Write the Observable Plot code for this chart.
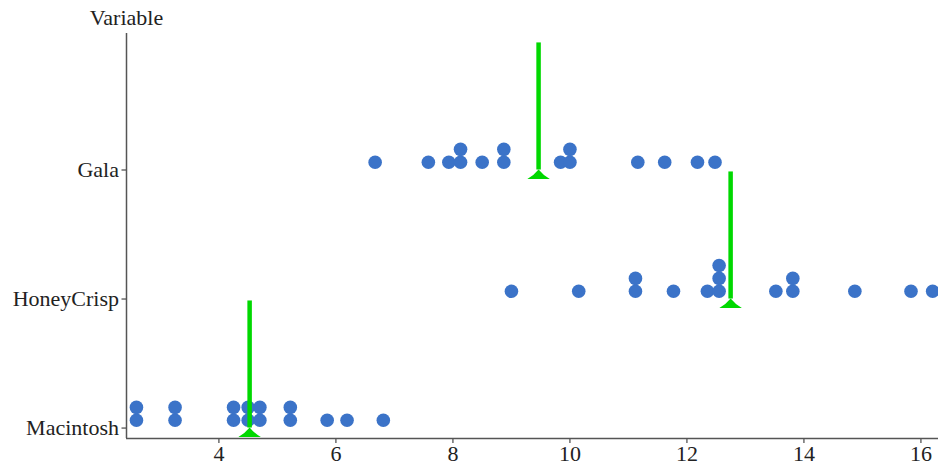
<!DOCTYPE html>
<html><head><meta charset="utf-8">
<script src="https://cdn.jsdelivr.net/npm/d3@7"></script>
<script src="https://cdn.jsdelivr.net/npm/@observablehq/plot@0.6"></script>
<style>
html,body{margin:0;padding:0;background:#fff;}
</style>
</head><body><div id="chart"></div>
<script>
// Categories (row 0 at the bottom)
const varieties = ["Macintosh", "HoneyCrisp", "Gala"];
// Series values
const galaValues = [6.67, 7.58, 7.93, 8.13, 8.13, 8.5, 8.87, 8.87, 9.84, 10.0, 10.0, 11.16, 11.62, 12.18, 12.48];
const honeyCrispValues = [9.0, 10.15, 11.12, 11.12, 11.77, 12.35, 12.55, 12.55, 12.55, 13.52, 13.81, 13.81, 14.87, 15.83, 16.2];
const macintoshValues = [2.59, 2.59, 3.25, 3.25, 4.25, 4.25, 4.5, 4.5, 4.7, 4.7, 5.22, 5.22, 5.85, 6.19, 6.81];
// Tick labels
const xTicks = [4, 6, 8, 10, 12, 14, 16];
const yTicks = [0, 1, 2];
const axisTitle = ["Variable"];

const xDomain = [2.42, 16.3];
const yDomain = [-0.081, 3.058];
const stackBase = 0.06, stackStep = 0.1, lineSpan = 0.985;

const seriesByName = new Map([["Macintosh", macintoshValues], ["HoneyCrisp", honeyCrispValues], ["Gala", galaValues]]);
const points = [];
const means = [];
varieties.forEach((name, row) => {
  const counts = new Map();
  for (const v of seriesByName.get(name)) {
    const k = counts.get(v) || 0;
    counts.set(v, k + 1);
    points.push({variety: name, row, value: v, level: row + stackBase + k * stackStep});
  }
  means.push({variety: name, row, mean: d3.mean(seriesByName.get(name))});
});

// flat "fulcrum" triangle marker, apex at the anchor point
const fulcrum = {
  draw(ctx, size) {
    const s = Math.sqrt(size / Math.PI);
    ctx.moveTo(0, -s * 0.05);
    ctx.quadraticCurveTo(s * 0.45, s * 0.5, s, s * 0.8);
    ctx.lineTo(-s, s * 0.8);
    ctx.quadraticCurveTo(-s * 0.45, s * 0.5, 0, -s * 0.05);
    ctx.closePath();
  }
};

const green = "#00d800";
const plot = Plot.plot({
  width: 938,
  height: 466,
  marginLeft: 126,
  marginRight: 0,
  marginTop: 33,
  marginBottom: 28,
  style: {fontFamily: "'Liberation Serif', 'Times New Roman', serif", fontSize: "22px", color: "#222", background: "#fff"},
  x: {domain: xDomain, ticks: xTicks, tickSize: 5, tickPadding: 2, label: null},
  y: {domain: yDomain, ticks: yTicks, tickFormat: (i) => varieties[i], tickSize: 4.5, tickPadding: 3, label: null},
  marks: [
    Plot.ruleX([xDomain[0]], {stroke: "#555", strokeWidth: 1.5}),
    Plot.ruleY([yDomain[0]], {stroke: "#555", strokeWidth: 1.5}),
    Plot.dot(points, {x: "value", y: "level", r: 6.8, fill: "#3b73c8"}),
    Plot.ruleX(means, {x: "mean", y1: "row", y2: (d) => d.row + lineSpan, stroke: green, strokeWidth: 4.5}),
    Plot.dot(means, {x: "mean", y: "row", symbol: fulcrum, r: 11.25, fill: green}),
    Plot.text(axisTitle, {text: (d) => d, frameAnchor: "top-left", dy: -16, textAnchor: "middle", lineAnchor: "middle", fontSize: 22, fill: "#222"})
  ]
});
document.getElementById("chart").appendChild(plot);
</script>
</body></html>
